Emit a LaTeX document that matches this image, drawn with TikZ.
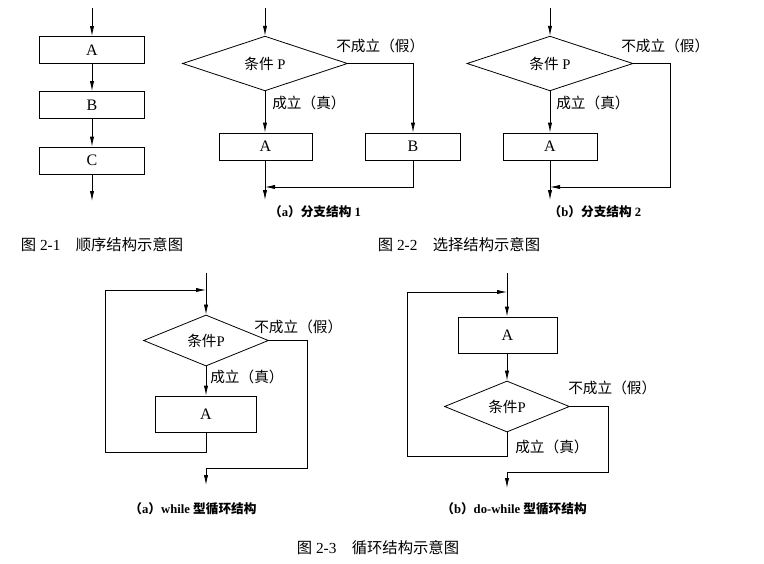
\documentclass[tikz,border=0pt]{standalone}
\usepackage{fontspec}
\setmainfont{Liberation Serif}
\newfontfamily\cjk{Noto Sans CJK SC}
\usetikzlibrary{shapes.geometric,arrows.meta}
\tikzset{
  ln/.style={line width=0.6pt},
  arr/.style={ln,-{Latex[length=7.5pt,width=3.2pt]}},
  box/.style={draw,ln,rectangle,inner sep=0pt,font=\fontsize{12pt}{14pt}\selectfont},
  dia/.style={draw,ln,diamond,inner sep=0pt,font=\fontsize{11pt}{13pt}\selectfont},
  lab/.style={inner sep=0pt,anchor=west,font=\fontsize{11pt}{13pt}\selectfont\cjk},
  sub/.style={inner sep=0pt,font=\fontsize{9.5pt}{11pt}\selectfont\bfseries},
  figcap/.style={inner sep=0pt,font=\fontsize{11.5pt}{13pt}\selectfont},
}
\begin{document}
\begin{tikzpicture}[x=0.75pt,y=-0.75pt]
\useasboundingbox (0,0) rectangle (764,564);
% ---------- Fig 2-1
\coordinate (s1) at (92,8);
\node[box,minimum width=78.75pt,minimum height=20.25pt] (A1) at (92,50) {A};
\node[box,minimum width=78.75pt,minimum height=20.25pt] (B1) at (92,105) {B};
\node[box,minimum width=78.75pt,minimum height=20.25pt] (C1) at (92,160.5) {C};
\coordinate (e1) at (92,201);
\draw[arr] (s1) -- (A1);
\draw[arr] (A1) -- (B1);
\draw[arr] (B1) -- (C1);
\draw[arr] (C1) -- (e1);
\node[figcap] (c1) at (102,245) {{\cjk 图} 2-1\quad{\cjk 顺序结构示意图}};
% ---------- Fig 2-2 (a)
\coordinate (s2a) at (265,8);
\node[dia,minimum width=123.75pt,minimum height=39.75pt] (D2a) at (265,63.5) {{\cjk 条件} P};
\node[box,minimum width=69.75pt,minimum height=20.25pt] (A2a) at (265.5,146.5) {A};
\node[box,minimum width=71.25pt,minimum height=20.25pt] (B2a) at (413,146.5) {B};
\coordinate (e2a) at (265,200);
\coordinate (j2a) at (265,187);
\draw[arr] (s2a) -- (D2a.north);
\draw[arr] (D2a.south) -- (A2a.north -| D2a.south);
\draw[arr] (D2a.east) -| (B2a.north);
\draw[arr] (A2a.south -| D2a.south) -- (e2a);
\draw[arr] (B2a.south) |- (j2a);
\node[lab] (f2a) at (336,46) {不成立（假）};
\node[lab] (t2a) at (272,103) {成立（真）};
\node[sub] (sa) at (315,212) {{\cjk （}a{\cjk ）分支结构} 1};
% ---------- Fig 2-2 (b)
\coordinate (s2b) at (550,8);
\node[dia,minimum width=124.5pt,minimum height=39.75pt] (D2b) at (550,63.5) {{\cjk 条件} P};
\node[box,minimum width=70.5pt,minimum height=20.25pt] (A2b) at (550,146.5) {A};
\coordinate (r2b) at (670,63.5);
\coordinate (j2b) at (550,187);
\coordinate (e2b) at (550,200);
\draw[arr] (s2b) -- (D2b.north);
\draw[arr] (D2b.south) -- (A2b.north);
\draw[arr] (A2b.south) -- (e2b);
\draw[arr] (D2b.east) -- (r2b) |- (j2b);
\node[lab] (f2b) at (621,46) {不成立（假）};
\node[lab] (t2b) at (556,103) {成立（真）};
\node[sub] (sb) at (595,212) {{\cjk （}b{\cjk ）分支结构} 2};
\node[figcap] (c2) at (459,245) {{\cjk 图} 2-2\quad{\cjk 选择结构示意图}};
% ---------- Fig 2-3 (a)
\coordinate (s3a) at (206,273);
\coordinate (m3a) at (206,290);
\node[dia,minimum width=93.75pt,minimum height=36.75pt] (D3a) at (206,340.5) {{\cjk 条件}P};
\node[box,minimum width=75.75pt,minimum height=27pt] (A3a) at (206,414) {A};
\coordinate (l3a) at (206,452);
\coordinate (ll3a) at (105,452);
\coordinate (r3a) at (307,340.5);
\coordinate (rb3a) at (307,468);
\coordinate (jb3a) at (206,468);
\coordinate (e3a) at (206,485);
\draw[arr] (s3a) -- (D3a.north);
\draw[arr] (D3a.south) -- (A3a.north);
\draw[arr] (A3a.south) -- (l3a) -- (ll3a) |- (m3a);
\draw[arr] (D3a.east) -- (r3a) -- (rb3a) -- (jb3a) -- (e3a);
\node[lab] (f3a) at (254,327) {不成立（假）};
\node[lab] (t3a) at (210,377) {成立（真）};
\node[sub] (sc) at (193,509) {{\cjk （}a{\cjk ）}while {\cjk 型循环结构}};
% ---------- Fig 2-3 (b)
\coordinate (s3b) at (507,273);
\coordinate (m3b) at (507,292);
\node[box,minimum width=74.25pt,minimum height=27pt] (A3b) at (507.5,335) {A};
\node[dia,minimum width=93.75pt,minimum height=38.25pt] (D3b) at (507,406.5) {{\cjk 条件}P};
\coordinate (l3b) at (507,456);
\coordinate (ll3b) at (407,456);
\coordinate (r3b) at (608,406.5);
\coordinate (rb3b) at (608,472);
\coordinate (jb3b) at (507,472);
\coordinate (e3b) at (507,488);
\draw[arr] (s3b) -- (A3b.north -| s3b);
\draw[arr] (A3b.south -| s3b) -- (D3b.north);
\draw[arr] (D3b.south) -- (l3b) -- (ll3b) |- (m3b);
\draw[arr] (D3b.east) -- (r3b) -- (rb3b) -- (jb3b) -- (e3b);
\node[lab] (f3b) at (568,388) {不成立（假）};
\node[lab] (t3b) at (515,447) {成立（真）};
\node[sub] (sd) at (514,509) {{\cjk （}b{\cjk ）}do-while {\cjk 型循环结构}};
\node[figcap] (c3) at (378,548) {{\cjk 图} 2-3\quad{\cjk 循环结构示意图}};
\end{tikzpicture}
\end{document}
